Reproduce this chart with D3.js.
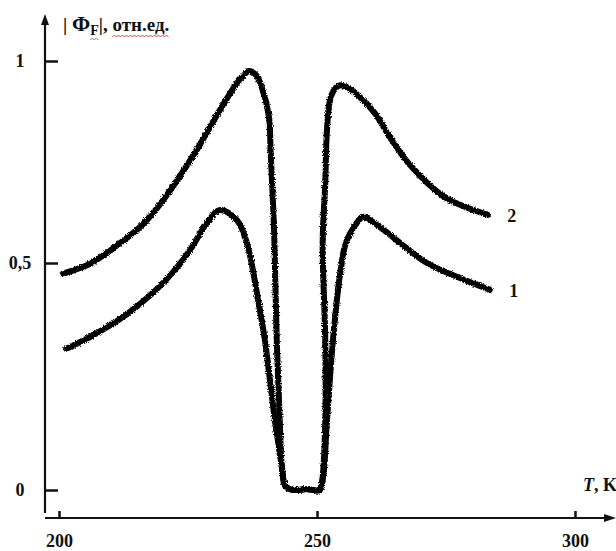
<!DOCTYPE html>
<html>
<head>
<meta charset="utf-8">
<script src="https://cdn.jsdelivr.net/npm/d3@7"></script>
<style>
  body { margin: 0; background: #fff; }
  text { font-family: "Liberation Serif", "Times New Roman", serif; font-weight: bold; fill: #111; }
</style>
</head>
<body>
<svg id="chart" width="616" height="551"></svg>
<script>
// temperatures (K) and |Phi_F| (rel. units)
var temps2 = [200.8, 203.1, 206, 210, 215.7, 219, 222.1, 226.7, 231.2, 234.5, 235.5, 236.8, 238.2, 239.3,
              240.7, 241.0, 241.3, 241.7, 242.2, 242.8, 243.2, 243.9, 245.5, 248, 250.5, 251.0,
              251.6, 251.6, 251.1, 251.6, 251.9, 252.5, 253.4, 254.5, 256.5, 258.3, 261.2, 264.1,
              268, 274.4, 278.7, 283.1];
var phi2   = [0.477, 0.485, 0.498, 0.532, 0.589, 0.636, 0.69, 0.78, 0.879, 0.946, 0.96, 0.975, 0.965, 0.935,
              0.861, 0.78, 0.698, 0.574, 0.33, 0.148, 0.05, 0.008, 0.0, 0.002, 0.0, 0.02,
              0.148, 0.33, 0.55, 0.698, 0.822, 0.903, 0.93, 0.94, 0.93, 0.911, 0.871, 0.812,
              0.743, 0.666, 0.639, 0.619];

var temps1 = [201.4, 206, 212.4, 215.7, 219, 222.1, 225.4, 228.7, 231.2, 234.5, 236.4, 238.6, 239.9,
              241.9, 242.4, 243.2, 243.9, 245.5, 248, 250.5, 251.2, 251.9, 253.1, 254.5, 255.8,
              258.9, 259.7, 262.2, 264.7, 271.3, 277.7, 283.5];
var phi1   = [0.311, 0.337, 0.381, 0.41, 0.443, 0.48, 0.532, 0.6, 0.631, 0.606, 0.55, 0.418, 0.33,
              0.148, 0.11, 0.05, 0.008, 0.0, 0.002, 0.0, 0.03, 0.148, 0.33, 0.478, 0.557,
              0.614, 0.611, 0.589, 0.564, 0.5, 0.467, 0.441];

var xTicks = [200, 250, 300];
var yTicks = [0, 0.5, 1];
var yTickLabels = ["0", "0,5", "1"];
var curveNames = ["1", "2"];

var svg = d3.select("#chart");

var x = d3.scaleLinear().domain([200, 300]).range([59, 575]);
// hand-drawn axis: the 0,5 mark is not half way
var y = d3.scaleLinear().domain([0, 0.5, 1]).range([490, 263, 61]);

// rough pen texture for the recorder traces
var defs = svg.append("defs");
var filt = defs.append("filter").attr("id", "rough")
    .attr("x", "-5%").attr("y", "-5%").attr("width", "110%").attr("height", "110%");
filt.append("feTurbulence").attr("type", "fractalNoise").attr("baseFrequency", 0.9)
    .attr("numOctaves", 2).attr("seed", 3).attr("result", "n");
filt.append("feDisplacementMap").attr("in", "SourceGraphic").attr("in2", "n")
    .attr("scale", 3.5).attr("xChannelSelector", "R").attr("yChannelSelector", "G");

// axis lines with arrows
svg.append("line").attr("x1", 45).attr("y1", 22).attr("x2", 45).attr("y2", 513)
    .attr("stroke", "#111").attr("stroke-width", 2.2);
svg.append("path").attr("d", "M45,14 L41,25 L49,25 Z").attr("fill", "#111");
svg.append("line").attr("x1", 45).attr("y1", 518).attr("x2", 606).attr("y2", 518)
    .attr("stroke", "#111").attr("stroke-width", 2.2);
svg.append("path").attr("d", "M616,518 L604,514 L604,522 Z").attr("fill", "#111");

var xAxis = svg.append("g").attr("transform", "translate(0,518)")
    .call(d3.axisBottom(x).tickValues(xTicks).tickSizeInner(-7).tickSizeOuter(0).tickPadding(16)
        .tickFormat(d3.format("d")));
xAxis.select(".domain").remove();
xAxis.selectAll("line").attr("stroke", "#111").attr("stroke-width", 2.5);
xAxis.selectAll("text").attr("font-size", 18).attr("fill", "#111")
    .attr("font-family", "Liberation Serif, Times New Roman, serif").attr("font-weight", "bold");

var yAxis = svg.append("g").attr("transform", "translate(45,0)")
    .call(d3.axisLeft(y).tickValues(yTicks).tickSizeInner(-13).tickSizeOuter(0).tickPadding(25)
        .tickFormat(function(d, i){ return yTickLabels[i]; }));
yAxis.select(".domain").remove();
yAxis.selectAll("line").attr("stroke", "#111").attr("stroke-width", 2.5);
yAxis.selectAll("text").attr("font-size", 18).attr("fill", "#111").attr("text-anchor", "middle")
    .attr("font-family", "Liberation Serif, Times New Roman, serif").attr("font-weight", "bold");

// the two traces
var line = d3.line()
    .x(function(d){ return x(d[0]); })
    .y(function(d){ return y(d[1]); })
    .curve(d3.curveCatmullRom.alpha(0.5));

var series = [d3.zip(temps1, phi1), d3.zip(temps2, phi2)];

svg.append("g").attr("filter", "url(#rough)")
    .selectAll("path")
    .data(series)
    .enter()
    .append("path")
    .attr("d", line)
    .attr("fill", "none")
    .attr("stroke", "#000")
    .attr("stroke-width", 6)
    .attr("stroke-linejoin", "round")
    .attr("stroke-linecap", "round");

// curve numbers next to the ends
svg.selectAll("text.cname")
    .data(series)
    .enter()
    .append("text")
    .attr("class", "cname")
    .attr("x", function(d){ return x(d[d.length - 1][0]) + 24; })
    .attr("y", function(d){ return y(d[d.length - 1][1]) + 7; })
    .attr("text-anchor", "middle")
    .attr("font-size", 18)
    .text(function(d, i){ return curveNames[i]; });

// y title  | Φ_F |, отн.ед.
var title = svg.append("text").attr("x", 63).attr("y", 31).attr("font-size", 19);
title.append("tspan").text("| ");
title.append("tspan").attr("font-size", 22).text("Φ");
title.append("tspan").attr("font-size", 14).attr("dy", 4).text("F");
title.append("tspan").attr("dy", -4).text("|, ");
title.append("tspan").text("отн.ед.");

// spell-check squiggles seen in the source picture
function squiggle(x0, x1, yy, color){
    var pts = [];
    for (var xx = x0, k = 0; xx <= x1; xx += 2, k++) pts.push([xx, yy + (k % 2 ? -1 : 1)]);
    svg.append("path").attr("d", d3.line()(pts)).attr("fill", "none")
        .attr("stroke", color).attr("stroke-width", 0.9);
}
var tn = title.node();
var nChars = tn.getNumberOfChars();
squiggle(tn.getStartPositionOfChar(nChars - 7).x, tn.getEndPositionOfChar(nChars - 1).x, 36, "#e03030");
squiggle(tn.getStartPositionOfChar(3).x, tn.getEndPositionOfChar(3).x, 39, "#3a9a3a");

// x title  T, K
var xt = svg.append("text").attr("x", 583).attr("y", 491).attr("font-size", 18);
xt.append("tspan").attr("font-style", "italic").text("T");
xt.append("tspan").text(", K");
</script>
</body>
</html>
